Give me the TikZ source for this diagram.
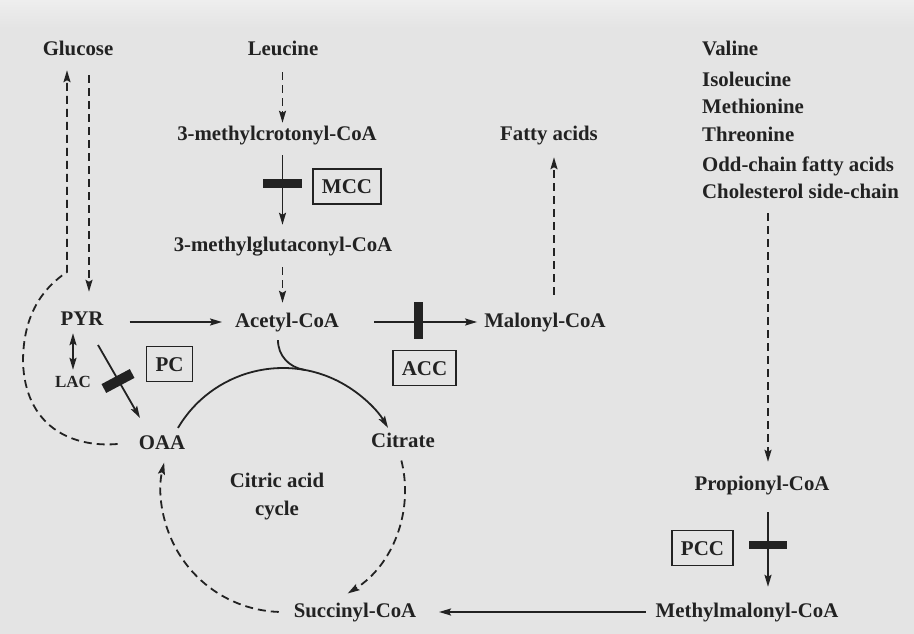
\documentclass[tikz,border=0pt]{standalone}
\usepackage{fontspec}
\setmainfont{Liberation Serif}
\usetikzlibrary{arrows.meta,calc}
\definecolor{paper}{HTML}{E4E4E4}
\definecolor{paperedge}{HTML}{EEEEEE}
\definecolor{ink}{HTML}{222222}
\begin{document}
\begin{tikzpicture}[x=1pt,y=1pt,color=ink,
  >={Stealth[length=12pt,width=7pt,inset=2pt]},
  metab/.style={font=\fontsize{20.8}{24}\selectfont\bfseries, inner sep=0pt,
    text height=14.5pt, text depth=4pt},
  small/.style={font=\fontsize{17}{20}\selectfont\bfseries, inner sep=0pt,
    text height=12pt, text depth=0pt},
  enzyme/.style={draw, line width=1.6pt, font=\fontsize{21}{25}\selectfont\bfseries,
    inner xsep=9pt, inner ysep=0pt, minimum height=35pt,
    text height=14.5pt, text depth=0pt},
  blocker/.style={fill, draw=none, inner sep=0pt},
  flow/.style={line width=1.8pt, ->},
  route/.style={flow, dash pattern=on 8pt off 5pt},
]
% paper
\fill[paper] (0,0) rectangle (914,-634);
\shade[top color=paperedge, bottom color=paper] (0,0) rectangle (914,-28);
\useasboundingbox (0,0) rectangle (914,-634);

% metabolites
\node[metab] (glu)  at (78,-50)   {Glucose};
\node[metab] (leu)  at (283,-50)  {Leucine};
\node[metab] (crot) at (277,-135) {3-methylcrotonyl-CoA};
\node[metab] (glut) at (283,-246) {3-methylglutaconyl-CoA};
\node[metab] (acoa) at (287,-322) {Acetyl-CoA};
\node[metab] (pyr)  at (82,-320)  {PYR};
\node[small] (lac)  at (73,-381)  {LAC};
\node[metab] (oaa)  at (162,-444) {OAA};
\node[metab] (cit)  at (403,-442) {Citrate};
\node[font=\fontsize{20.8}{28}\selectfont\bfseries, inner sep=0pt, align=center]
  (tca) at (277,-497) {Citric acid\\cycle};
\node[metab] (succ) at (355,-612) {Succinyl-CoA};
\node[metab] (mmal) at (747,-612) {Methylmalonyl-CoA};
\node[metab] (prop) at (762,-485) {Propionyl-CoA};
\node[metab] (mal)  at (545,-322) {Malonyl-CoA};
\node[metab] (fat)  at (549,-135) {Fatty acids};

% propionyl-CoA sources
\node[metab, anchor=west] (val)  at (702,-50)    {Valine};
\node[metab, anchor=west] (ile)  at (702,-81.7)  {Isoleucine};
\node[metab, anchor=west] (met)  at (702,-108.5) {Methionine};
\node[metab, anchor=west] (thr)  at (702,-136.7) {Threonine};
\node[metab, anchor=west] (odd)  at (702,-166.7) {Odd-chain fatty acids};
\node[metab, anchor=west] (chol) at (702,-193)   {Cholesterol side-chain};

% carboxylases
\node[enzyme] (mcc) at (347,-186.5) {MCC};
\node[enzyme] (pc)  at (169.5,-364) {PC};
\node[enzyme] (acc) at (424.5,-368) {ACC};
\node[enzyme] (pcc) at (702.5,-548) {PCC};

% blocks on the carboxylase steps
\node[blocker, minimum width=39pt, minimum height=9pt] (mccbar) at (282.5,-183.5) {};
\node[blocker, minimum width=9pt, minimum height=37pt] (accbar) at (418,-320) {};
\node[blocker, minimum width=32pt, minimum height=10pt, rotate=28] (pcbar) at (118,-381) {};
\node[blocker, minimum width=38pt, minimum height=8pt] (pccbar) at (768,-545) {};

% leucine branch
\draw[route] ($(leu.south -| mccbar)+(0,-12.75)$) -- ($(crot.north -| mccbar)+(0,2.75)$);
\draw[flow]  ($(crot.south -| mccbar)+(0,-10.75)$) -- ($(glut.north -| mccbar)+(0,11.75)$);
\draw[route] ($(glut.south -| mccbar)+(0,-11.75)$) -- ($(acoa.north -| mccbar)+(0,9.75)$);

% acetyl-CoA to malonyl-CoA and fatty acids
\draw[flow]  ($(acoa.east)+(35,0)$) -- ($(mal.west)+(-7,0)$);
\draw[route] ($(mal.north)+(9,17.75)$) -- ($(mal.north |- fat.south)+(9,-12.75)$);

% odd-chain branch
\draw[route] ($(chol.south -| pccbar)+(0,-10.75)$) -- ($(prop.north -| pccbar)+(0,13.75)$);
\draw[flow]  ($(prop.south -| pccbar)+(0,-17.75)$) -- ($(mmal.north -| pccbar)+(0,15.75)$);
\draw[flow]  ($(mmal.west)+(-10,0)$) -- ($(succ.east)+(22.6,0)$);

% pyruvate
\draw[flow] ($(pyr.east |- acoa)+(26,0)$) -- ($(acoa.west)+(-12.75,0)$);
\draw[flow, <->] ($(lac.north |- pyr.south)+(0,-3.75)$) -- ($(lac.north)+(0,5)$);
\draw[flow] ($(pyr)+(16,-25)$) -- ($(oaa)+(-22,26)$);

% glucose: gluconeogenesis loop and glycolysis
\coordinate (gk) at (67,-272);
\draw[route] ($(oaa.west)+(-21,0)$) .. controls (70,-448) and (25,-425) .. (23,-362)
  .. controls (23,-318) and (40,-290) .. (gk) -- ($(gk |- glu.south)+(0,-10.75)$);
\draw[route] ($(glu.south)+(11,-15.75)$) -- ($(glu.south |- pyr.north)+(11,18.75)$);

% citric acid cycle
\coordinate (cc) at (283,-490);
\draw[flow] ($(cc)+(149.4:122pt)$) arc[start angle=149.4, end angle=30.6, radius=122pt];
\draw[line width=1.8pt] ($(acoa.south)+(-9,-8.75)$) to[out=-90,in=170] ($(cc)+(80:122pt)$);
\draw[route] ($(cc)+(14:122pt)$) arc[start angle=14, end angle=-58, radius=122pt];
\draw[route] ($(cc)+(-92:122pt)$) arc[start angle=-92, end angle=-193, radius=122pt];
\end{tikzpicture}
\end{document}
